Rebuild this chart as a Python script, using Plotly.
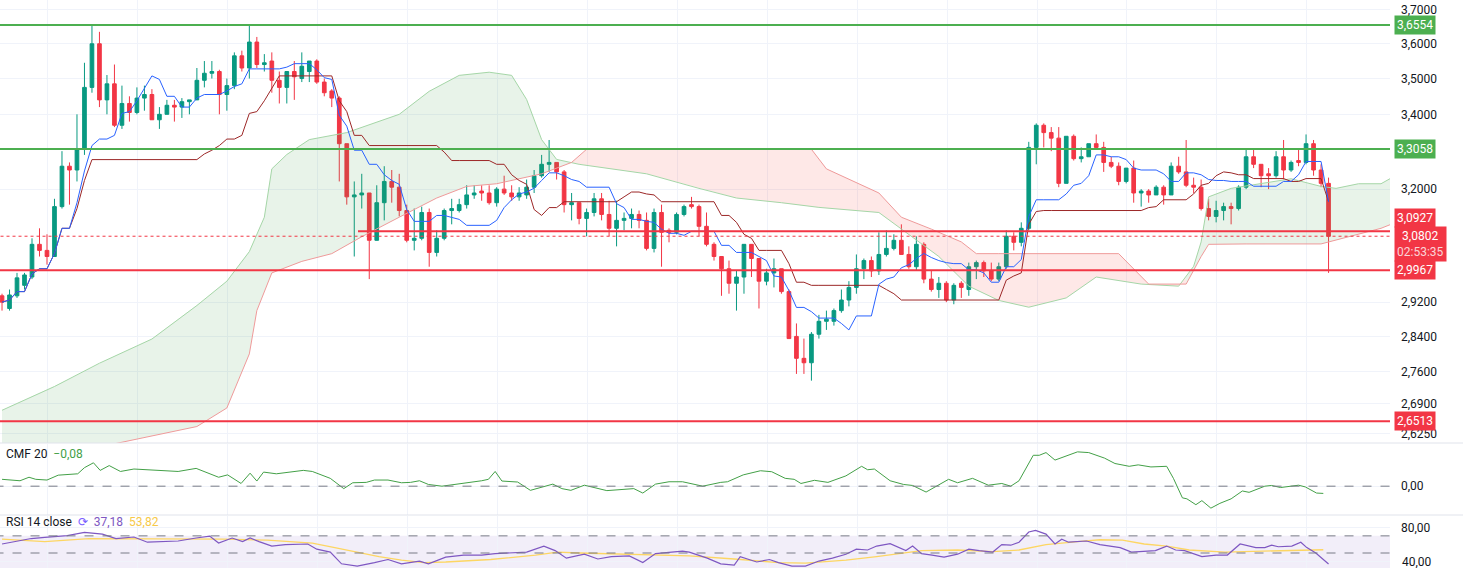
import numpy as np
import pandas as pd
import plotly.graph_objects as go

# candles (price)
opens = [2.935, 2.905, 2.935, 2.96, 2.98, 3.06, 3.045, 3.03, 3.155, 3.26,
         3.25, 3.305, 3.475, 3.60, 3.44, 3.485, 3.37, 3.43, 3.405, 3.445,
         3.455, 3.385, 3.40, 3.425, 3.42, 3.435, 3.44, 3.495, 3.515, 3.52,
         3.455, 3.48, 3.565, 3.53, 3.605, 3.54, 3.55, 3.495, 3.475, 3.52,
         3.50, 3.52, 3.55, 3.49, 3.465, 3.445, 3.32, 3.18, 3.185, 3.19,
         3.07, 3.165, 3.22, 3.205, 3.145, 3.07, 3.075, 3.14, 3.04, 3.075,
         3.145, 3.145, 3.16, 3.185, 3.195, 3.19, 3.165, 3.20, 3.19, 3.18,
         3.185, 3.205, 3.235, 3.265, 3.27, 3.245, 3.16, 3.165, 3.125, 3.14,
         3.175, 3.135, 3.10, 3.12, 3.125, 3.135, 3.12, 3.05, 3.14, 3.095,
         3.09, 3.135, 3.16, 3.155, 3.105, 3.06, 3.03, 3.00, 2.965, 2.98,
         3.06, 3.025, 2.97, 2.99, 3.00, 2.945, 2.84, 2.79, 2.78, 2.845,
         2.875, 2.875, 2.90, 2.925, 2.955, 3.00, 3.02, 2.995, 3.035, 3.05,
         3.07, 3.035, 3.005, 3.06, 2.975, 2.95, 2.965, 2.925, 2.965, 2.95,
         3.005, 3.015, 2.995, 2.975, 3.005, 3.08, 3.065, 3.10, 3.31, 3.37,
         3.35, 3.335, 3.215, 3.34, 3.28, 3.285, 3.32, 3.31, 3.27, 3.26,
         3.22, 3.255, 3.19, 3.195, 3.185, 3.205, 3.185, 3.26, 3.245, 3.21,
         3.205, 3.15, 3.13, 3.145, 3.155, 3.15, 3.205, 3.285, 3.265, 3.24,
         3.235, 3.285, 3.25, 3.275, 3.27, 3.32, 3.25, 3.215]
highs = [2.94, 2.95, 2.99, 2.99, 3.075, 3.10, 3.085, 3.175, 3.30, 3.27,
         3.40, 3.545, 3.655, 3.635, 3.51, 3.54, 3.48, 3.45, 3.475, 3.48,
         3.47, 3.42, 3.44, 3.44, 3.445, 3.44, 3.53, 3.55, 3.55, 3.525,
         3.50, 3.575, 3.58, 3.655, 3.62, 3.57, 3.575, 3.52, 3.52, 3.55,
         3.575, 3.55, 3.555, 3.50, 3.47, 3.45, 3.32, 3.22, 3.24, 3.19,
         3.21, 3.26, 3.25, 3.24, 3.16, 3.15, 3.155, 3.15, 3.095, 3.15,
         3.175, 3.175, 3.21, 3.21, 3.21, 3.21, 3.205, 3.235, 3.21, 3.205,
         3.225, 3.25, 3.29, 3.33, 3.27, 3.25, 3.19, 3.165, 3.15, 3.19,
         3.19, 3.17, 3.17, 3.14, 3.15, 3.145, 3.14, 3.15, 3.16, 3.10,
         3.14, 3.16, 3.18, 3.16, 3.14, 3.065, 3.03, 3.02, 2.995, 3.06,
         3.055, 3.025, 3.00, 3.025, 3.00, 2.95, 2.87, 2.835, 2.85, 2.89,
         2.90, 2.905, 2.95, 2.97, 3.035, 3.025, 3.03, 3.09, 3.095, 3.085,
         3.11, 3.055, 3.08, 3.065, 2.995, 2.98, 2.97, 2.965, 2.97, 3.015,
         3.02, 3.02, 3.015, 3.015, 3.095, 3.09, 3.115, 3.325, 3.375, 3.375,
         3.365, 3.365, 3.34, 3.345, 3.31, 3.32, 3.345, 3.325, 3.285, 3.27,
         3.255, 3.275, 3.20, 3.20, 3.21, 3.21, 3.27, 3.285, 3.33, 3.23,
         3.225, 3.175, 3.17, 3.165, 3.165, 3.21, 3.305, 3.305, 3.265, 3.255,
         3.30, 3.33, 3.275, 3.305, 3.345, 3.33, 3.265, 3.23]
lows = [2.90, 2.90, 2.93, 2.95, 2.975, 3.03, 3.01, 3.03, 3.15, 3.16,
        3.22, 3.29, 3.46, 3.42, 3.40, 3.365, 3.36, 3.38, 3.40, 3.41,
        3.385, 3.36, 3.40, 3.38, 3.39, 3.40, 3.44, 3.475, 3.50, 3.40,
        3.41, 3.47, 3.52, 3.50, 3.53, 3.52, 3.46, 3.43, 3.43, 3.44,
        3.49, 3.49, 3.485, 3.45, 3.42, 3.22, 3.16, 3.03, 3.15, 2.975,
        3.075, 3.12, 3.165, 3.13, 3.065, 3.045, 3.07, 3.005, 3.03, 3.07,
        3.11, 3.14, 3.15, 3.175, 3.17, 3.16, 3.155, 3.185, 3.17, 3.17,
        3.175, 3.19, 3.23, 3.245, 3.225, 3.14, 3.12, 3.11, 3.08, 3.13,
        3.12, 3.08, 3.055, 3.095, 3.10, 3.10, 3.045, 3.04, 3.005, 3.065,
        3.085, 3.13, 3.15, 3.08, 3.055, 3.02, 2.935, 2.94, 2.90, 2.94,
        2.98, 2.905, 2.96, 2.955, 2.94, 2.835, 2.755, 2.755, 2.74, 2.835,
        2.855, 2.865, 2.895, 2.91, 2.94, 2.975, 2.98, 2.985, 3.03, 3.045,
        3.035, 3.00, 2.995, 2.965, 2.945, 2.93, 2.92, 2.915, 2.93, 2.935,
        2.975, 2.98, 2.97, 2.97, 3.00, 3.045, 3.055, 3.095, 3.265, 3.31,
        3.30, 3.205, 3.215, 3.275, 3.27, 3.285, 3.305, 3.245, 3.255, 3.21,
        3.215, 3.165, 3.155, 3.165, 3.185, 3.16, 3.185, 3.24, 3.205, 3.19,
        3.145, 3.12, 3.115, 3.12, 3.11, 3.145, 3.20, 3.255, 3.205, 3.20,
        3.23, 3.225, 3.245, 3.26, 3.265, 3.235, 3.205, 2.99]
closes = [2.92, 2.937, 2.978, 2.985, 3.06, 3.045, 3.03, 3.155, 3.26, 3.25,
          3.305, 3.475, 3.60, 3.44, 3.485, 3.37, 3.43, 3.405, 3.445, 3.455,
          3.385, 3.40, 3.425, 3.42, 3.435, 3.44, 3.495, 3.515, 3.52, 3.455,
          3.48, 3.565, 3.53, 3.605, 3.54, 3.545, 3.495, 3.475, 3.52, 3.505,
          3.535, 3.55, 3.49, 3.46, 3.445, 3.32, 3.18, 3.185, 3.19, 3.07,
          3.165, 3.22, 3.205, 3.145, 3.07, 3.075, 3.14, 3.04, 3.075, 3.145,
          3.15, 3.16, 3.185, 3.19, 3.19, 3.165, 3.20, 3.19, 3.18, 3.19,
          3.205, 3.235, 3.265, 3.27, 3.245, 3.16, 3.165, 3.125, 3.14, 3.175,
          3.135, 3.10, 3.12, 3.125, 3.135, 3.12, 3.05, 3.14, 3.09, 3.09,
          3.135, 3.155, 3.155, 3.105, 3.06, 3.03, 3.00, 2.965, 2.98, 3.06,
          3.025, 2.97, 2.99, 3.00, 2.945, 2.835, 2.79, 2.78, 2.845, 2.875,
          2.88, 2.90, 2.925, 2.955, 3.00, 3.02, 2.995, 3.035, 3.05, 3.07,
          3.035, 3.005, 3.06, 2.975, 2.95, 2.965, 2.925, 2.96, 2.955, 3.005,
          3.015, 2.995, 2.975, 3.005, 3.08, 3.065, 3.10, 3.31, 3.37, 3.35,
          3.335, 3.215, 3.34, 3.28, 3.285, 3.32, 3.31, 3.27, 3.26, 3.22,
          3.255, 3.19, 3.195, 3.185, 3.205, 3.185, 3.26, 3.245, 3.21, 3.205,
          3.15, 3.13, 3.145, 3.155, 3.15, 3.205, 3.285, 3.265, 3.235, 3.235,
          3.285, 3.25, 3.27, 3.27, 3.32, 3.25, 3.215, 3.08]

# ichimoku cloud spans (bar index, price)
span_a_idx = [0, 7, 13, 20, 26, 30, 33, 35, 36, 38, 41, 46, 53, 57, 61, 65, 68, 70, 72, 74,
              77, 86, 93, 98, 104, 109, 117, 120, 125, 129, 133, 137, 142, 146, 152, 157,
              159, 160, 161, 164, 168, 172, 176, 178, 181, 184, 186]
span_a = [2.675, 2.727, 2.779, 2.834, 2.912, 2.97, 3.042, 3.128, 3.253, 3.291, 3.331, 3.35,
          3.40, 3.464, 3.509, 3.518, 3.509, 3.441, 3.331, 3.278, 3.265, 3.24, 3.202, 3.177,
          3.165, 3.153, 3.14, 3.098, 3.03, 2.958, 2.924, 2.908, 2.93, 2.98, 2.963, 2.958,
          3.006, 3.066, 3.18, 3.202, 3.214, 3.227, 3.207, 3.202, 3.214, 3.214, 3.236]
span_b_idx = [0, 14, 26, 30, 33, 34, 36, 40, 44, 48, 53, 58, 62, 66, 72, 76, 78, 108, 110,
              117, 120, 124, 128, 130, 133, 149, 153, 158, 160, 161, 166, 176, 184, 186]
span_b = [2.55, 2.60, 2.64, 2.68, 2.80, 2.90, 2.99, 3.018, 3.037, 3.079, 3.128, 3.177,
          3.207, 3.214, 3.24, 3.27, 3.305, 3.305, 3.253, 3.19, 3.128, 3.098, 3.066, 3.037,
          3.037, 3.037, 2.963, 2.963, 3.03, 3.06, 3.061, 3.061, 3.10, 3.115]

# CMF 20 (bar index, value)
cmf_idx = [0, 2.4, 3.6, 4.5, 6, 7.5, 10.1, 11, 12.2, 13.1, 14.3, 15.8, 17.6, 19.4, 23.5,
           25.9, 28.9, 30.1, 31.9, 33.1, 34, 34.9, 36.6, 40.2, 41.4, 43.8, 45.6, 46.8,
           48.6, 49.7, 51.5, 53.3, 54.5, 55.7, 56.9, 58.7, 61.6, 64, 64.9, 65.8, 66.7,
           68.8, 70.5, 72.3, 73.5, 74.7, 75.9, 77.7, 80.7, 84.3, 85.5, 87.2, 89, 90.8,
           93.5, 95.9, 96.8, 98.9, 101.2, 102.7, 104.5, 105.7, 106.6, 108.4, 110.2,
           112.6, 114.7, 115.5, 116.4, 118.5, 120.3, 121.5, 123.3, 126.3, 127.5, 129.5,
           131.6, 133.4, 134.6, 135.7, 137.6, 138.4, 139.3, 140.5, 143.5, 145, 147.1,
           148.5, 150.4, 151.6, 153.3, 155.4, 156.3, 157.5, 158.1, 159.3, 160.1, 161.3,
           162.5, 164, 165.5, 166.4, 168.5, 169.4, 170.6, 173, 173.9, 175.4, 176.3]
cmf = [0.076, 0.06, 0.099, 0.076, 0.068, 0.122, 0.137, 0.205, 0.259, 0.175, 0.228, 0.163,
       0.19, 0.182, 0.163, 0.197, 0.099, 0.125, 0.03, 0.144, 0.057, 0.156, 0.137, 0.175,
       0.163, 0.087, -0.027, 0.038, 0.042, 0.068, 0.068, 0.038, 0.042, 0.06, 0.019, 0.0,
       0.03, 0.06, 0.076, 0.163, 0.057, 0.046, -0.046, -0.008, 0.023, -0.027, -0.046,
       0.011, -0.049, -0.027, -0.076, 0.023, 0.049, 0.049, 0.0, 0.042, 0.049, 0.125,
       0.171, 0.16, 0.087, 0.076, 0.03, 0.065, 0.042, 0.114, 0.22, 0.182, 0.19, 0.06,
       0.019, 0.008, -0.065, 0.076, 0.038, 0.087, 0.011, 0.03, 0.0, 0.06, 0.342, 0.342,
       0.372, 0.289, 0.38, 0.372, 0.311, 0.251, 0.22, 0.236, 0.213, 0.22, 0.087, -0.129,
       -0.14, -0.205, -0.16, -0.243, -0.19, -0.14, -0.053, -0.068, 0.0, 0.008, -0.015,
       0.011, -0.008, -0.076, -0.08]

# RSI 14 and its moving average (bar index, value)
rsi_idx = [0, 2.1, 3.9, 5.7, 8.7, 11, 13.4, 15.2, 17.6, 19.4, 23.5, 25.9, 27.7, 28.9, 30.7,
           32.1, 33.1, 34.3, 36, 37.8, 40.8, 42, 43.8, 45.3, 47.4, 49.7, 51.5, 53.3, 55.7,
           56.9, 59.2, 61.6, 64, 65.8, 68.2, 70, 72.3, 73.8, 75.3, 77.7, 79.5, 81.3, 83.7,
           85.5, 87.2, 89, 90.8, 91.7, 94.1, 95.9, 97.7, 98.5, 100.7, 102.4, 103.6, 105.4,
           107.2, 109, 110.8, 112.6, 114, 115.5, 116.7, 118.5, 120.6, 121.5, 122.7, 124.1,
           125.7, 127.5, 129, 130.4, 132.2, 133.4, 134.6, 135.7, 137, 137.9, 139.3, 140.5,
           141.4, 142.3, 144.7, 146.5, 148, 149.2, 150.7, 152.4, 153.9, 155.4, 156.6, 157.8,
           160.1, 162, 163.5, 165.2, 167.3, 168.5, 169.4, 170.3, 172.1, 173.3, 174.1, 175.3,
           177]
rsi = [60.5, 64, 66.9, 68.2, 70.3, 74, 72.1, 66.9, 68.7, 62.6, 64, 67.5, 69.7, 61.6, 67.5,
       63.3, 67.5, 63.3, 58.1, 59.8, 60.5, 54.5, 51.1, 37.4, 34.7, 38.8, 42.4, 37.4, 40.6,
       37.4, 45.1, 47.6, 47.6, 49.3, 50, 51.1, 58.1, 52.8, 44, 48.6, 43, 45.8, 46.6, 38.8,
       49.3, 51.1, 52.1, 51.1, 44, 37.4, 36, 45.8, 39.5, 42.4, 38.8, 34.7, 34.7, 40.6, 44,
       48.6, 54.5, 53.5, 58.1, 60.9, 52.8, 58.1, 49.3, 47.6, 45.1, 48.6, 54.5, 52.8, 51.1,
       59.8, 59.1, 62.6, 74.5, 76.3, 72.1, 60.5, 66.1, 62.6, 64, 59.8, 58.1, 56.3, 51.1,
       51.7, 52.8, 58.1, 53.5, 52.8, 45.8, 47.6, 47.6, 60.5, 56.3, 56.3, 59.1, 57.3, 58.1,
       62.6, 56.3, 50, 37.18]
rsi_ma_idx = [0, 5.7, 11.6, 17.6, 23.5, 29.5, 35.4, 41.4, 44.4, 47.4, 50.3, 53.3, 56.3,
              59.2, 65.2, 71.2, 74.1, 77.1, 83, 89, 91.7, 97.7, 103.6, 107.2, 112.6, 116.7,
              119.7, 122.7, 127.5, 132.2, 135.7, 139.3, 143.5, 146.5, 149.5, 152.4, 155.4,
              158.4, 163.2, 167.3, 172.1, 176.3]
rsi_ma = [66.1, 63.3, 66.9, 66.9, 66.9, 66.1, 65.1, 61.6, 56.3, 51.1, 45.8, 41.6, 38.8, 39.5,
          42.4, 47.6, 51.1, 50, 48.6, 46.6, 46.6, 43, 38.8, 38.1, 41.6, 45.8, 49.3, 52.8, 53.5,
          51.7, 53.5, 59.8, 63.3, 65.5, 65.1, 60.5, 58.1, 53.5, 51.1, 52.1, 53.5, 53.82]

# horizontal levels
green_levels = [3.6554, 3.3058]
red_levels = [2.9967, 2.6513]
resist_level = 3.0927
last_price = 3.0802
price_ticks = [3.7, 3.6, 3.5, 3.4, 3.2, 2.92, 2.84, 2.76, 2.69, 2.625]

UP, DOWN = "#089981", "#F23645"
GREEN_LINE, RED_LINE = "#4CAF50", "#F23645"
FONT = "Roboto"

n = len(closes)
idx = np.arange(n)
df = pd.DataFrame({"o": opens, "h": highs, "l": lows, "c": closes})
tenkan = (df.h.rolling(9, min_periods=1).max() + df.l.rolling(9, min_periods=1).min()) / 2
kijun = (df.h.rolling(26, min_periods=1).max() + df.l.rolling(26, min_periods=1).min()) / 2

X_END = 185.2
fig = go.Figure()

# cloud fill, split where the spans cross
grid = np.arange(0, 187)
a = np.interp(grid, span_a_idx, span_a)
b = np.interp(grid, span_b_idx, span_b)
sign = a >= b
start = 0
for i in range(1, len(grid) + 1):
    if i == len(grid) or sign[i] != sign[start]:
        seg = slice(start, min(i + 1, len(grid)))
        fill = "rgba(67,160,71,0.12)" if sign[start] else "rgba(244,67,54,0.12)"
        fig.add_trace(go.Scatter(x=grid[seg], y=b[seg], mode="lines", line=dict(width=0),
                                 hoverinfo="skip", showlegend=False))
        fig.add_trace(go.Scatter(x=grid[seg], y=a[seg], mode="lines", line=dict(width=0),
                                 fill="tonexty", fillcolor=fill, hoverinfo="skip", showlegend=False))
        start = i
fig.add_trace(go.Scatter(x=span_a_idx, y=span_a, mode="lines", line=dict(color="#A5D6A7", width=1),
                         showlegend=False))
fig.add_trace(go.Scatter(x=span_b_idx, y=span_b, mode="lines", line=dict(color="#EF9A9A", width=1),
                         showlegend=False))

fig.add_trace(go.Scatter(x=idx, y=kijun, mode="lines", line=dict(color="#9C2727", width=1),
                         showlegend=False))
fig.add_trace(go.Scatter(x=idx, y=tenkan, mode="lines", line=dict(color="#2962FF", width=1),
                         showlegend=False))

fig.add_trace(go.Candlestick(
    x=idx, open=opens, high=highs, low=lows, close=closes,
    increasing=dict(line=dict(color=UP, width=1), fillcolor=UP),
    decreasing=dict(line=dict(color=DOWN, width=1), fillcolor=DOWN),
    whiskerwidth=0, showlegend=False))

# CMF
fig.add_trace(go.Scatter(x=cmf_idx, y=cmf, mode="lines", line=dict(color="#43A047", width=1),
                         yaxis="y2", showlegend=False))
# RSI
fig.add_trace(go.Scatter(x=rsi_ma_idx, y=rsi_ma, mode="lines", line=dict(color="#FDD663", width=1.3),
                         yaxis="y3", showlegend=False))
fig.add_trace(go.Scatter(x=rsi_idx, y=rsi, mode="lines", line=dict(color="#7E57C2", width=1.2),
                         yaxis="y3", showlegend=False))

shapes = []
for lv in green_levels:
    shapes.append(dict(type="line", xref="x", yref="y", x0=-1, x1=X_END + 0.5, y0=lv, y1=lv,
                       line=dict(color=GREEN_LINE, width=2)))
for lv in red_levels:
    shapes.append(dict(type="line", xref="x", yref="y", x0=-1, x1=X_END + 0.5, y0=lv, y1=lv,
                       line=dict(color=RED_LINE, width=2)))
shapes.append(dict(type="line", xref="x", yref="y", x0=47.5, x1=X_END + 0.5, y0=resist_level,
                   y1=resist_level, line=dict(color=RED_LINE, width=2)))
shapes.append(dict(type="line", xref="x", yref="y", x0=-1, x1=X_END, y0=last_price, y1=last_price,
                   line=dict(color=RED_LINE, width=1, dash="dot")))
shapes.append(dict(type="line", xref="x", yref="y2", x0=-1, x1=X_END, y0=0, y1=0,
                   line=dict(color="#787B86", width=1, dash="dash")))
shapes.append(dict(type="rect", xref="x", yref="y3", x0=-1, x1=X_END, y0=30, y1=70,
                   fillcolor="rgba(126,87,194,0.1)", line=dict(width=0), layer="below"))
for lv in [70, 50]:
    shapes.append(dict(type="line", xref="x", yref="y3", x0=-1, x1=X_END, y0=lv, y1=lv,
                       line=dict(color="#787B86", width=1, dash="dash")))
for yy in [1 - 443 / 568, 1 - 515 / 568]:
    shapes.append(dict(type="line", xref="paper", yref="paper", x0=0, x1=1, y0=yy, y1=yy,
                       line=dict(color="#E0E3EB", width=1)))

def fmt(v):
    return f"{v:.4f}".replace(".", ",")

ann = []
def tag(y, text, color, yref="y", yshift=0):
    ann.append(dict(x=1394 / 1463, xref="paper", y=y, yref=yref, text=text, showarrow=False,
                    xanchor="left", yshift=yshift, font=dict(color="white", size=12, family=FONT),
                    bgcolor=color, borderpad=2))

for lv in green_levels:
    tag(np.log10(lv), fmt(lv), GREEN_LINE)
for lv in red_levels:
    tag(np.log10(lv), fmt(lv), RED_LINE)
tag(np.log10(resist_level), fmt(resist_level), RED_LINE, yshift=13)
tag(np.log10(last_price), fmt(last_price) + "<br><span style='color:#FAD4D8'>02:53:35</span>",
    RED_LINE, yshift=-8)

# bottom RSI label sits at the window edge, so it is placed as an annotation
ann.append(dict(x=1400 / 1463, xref="paper", y=40, yref="y3", xanchor="left", showarrow=False,
                text="40,00", font=dict(color="#131722", size=12, family=FONT)))

ann.append(dict(x=0.003, xref="paper", y=1 - 463 / 568, yref="paper", xanchor="left", showarrow=False,
                text="CMF 20  <span style='color:#43A047'>−0,08</span>",
                font=dict(color="#131722", size=12, family=FONT)))
ann.append(dict(x=0.003, xref="paper", y=1 - 531 / 568, yref="paper", xanchor="left", showarrow=False,
                text="RSI 14 close  <span style='color:#7B61FF'>⟳</span>  "
                     "<span style='color:#7E57C2'>37,18</span>  <span style='color:#F7C948'>53,82</span>",
                font=dict(color="#131722", size=12, family=FONT)))

XD = [0, 1390 / 1463]
fig.update_layout(
    width=1463, height=568, margin=dict(l=0, r=0, t=0, b=0, autoexpand=False),
    paper_bgcolor="white", plot_bgcolor="white",
    font=dict(family=FONT, size=12, color="#131722"),
    shapes=shapes, annotations=ann, hovermode=False,
    xaxis=dict(domain=XD, range=[-0.27, X_END], showticklabels=False, rangeslider=dict(visible=False),
               tickvals=[6.1 + 12 * k for k in range(16)], gridcolor="#F0F3FA", zeroline=False,
               anchor="y3"),
    yaxis=dict(domain=[1 - 443 / 568, 1], type="log", side="right", anchor="x",
               range=[np.log10(2.605), np.log10(3.73)], tickvals=price_ticks,
               ticktext=[fmt(v) for v in price_ticks], gridcolor="#F0F3FA", zeroline=False,
               ticks="", ticklabelstandoff=10),
    yaxis2=dict(domain=[1 - 515 / 568, 1 - 444 / 568], side="right", anchor="x",
                range=[-0.319, 0.467], tickvals=[0], ticktext=["0,00"], gridcolor="#F0F3FA",
                zeroline=False, ticklabelstandoff=10),
    yaxis3=dict(domain=[0, 1 - 516 / 568], side="right", anchor="x",
                range=[32.5, 93.2], tickvals=[80, 40], ticktext=["80,00", ""],
                gridcolor="#F0F3FA", zeroline=False, ticklabelstandoff=10),
)

fig.write_html("out.html", config={"displayModeBar": False},
               post_script="document.body.style.margin='0';document.body.style.overflow='hidden';")
